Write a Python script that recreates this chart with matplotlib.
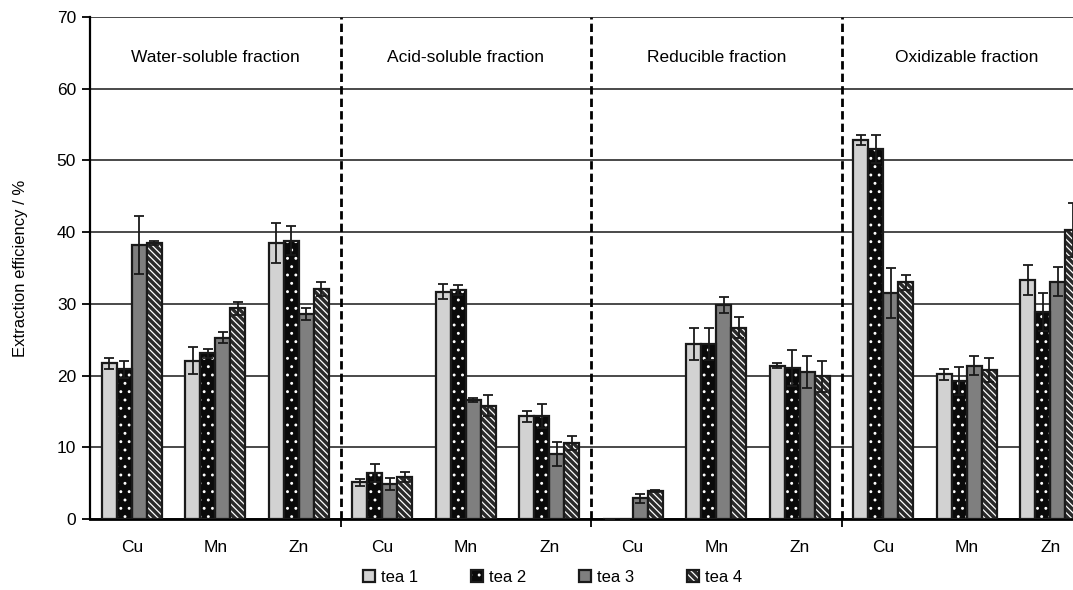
import numpy as np
import matplotlib
matplotlib.use('Agg')
import matplotlib.pyplot as plt
from matplotlib.patches import Patch

# categories: 4 fractions x 3 elements
fractions = ['Water-soluble fraction', 'Acid-soluble fraction', 'Reducible fraction', 'Oxidizable fraction']
elements = ['Cu', 'Mn', 'Zn']
teas = ['tea 1', 'tea 2', 'tea 3', 'tea 4']

# extraction efficiency (%) per tea, order: water Cu Mn Zn, acid Cu Mn Zn, reducible Cu Mn Zn, oxidizable Cu Mn Zn
tea1 = [21.7, 22.1, 38.5, 5.1, 31.7, 14.3, 0.0, 24.4, 21.4, 52.9, 20.2, 33.3]
tea2 = [20.9, 23.1, 38.8, 6.4, 31.9, 14.4, 0.0, 24.4, 21.1, 51.6, 19.3, 28.8]
tea3 = [38.2, 25.3, 28.6, 4.9, 16.6, 9.1, 2.9, 29.8, 20.5, 31.5, 21.4, 33.1]
tea4 = [38.5, 29.4, 32.1, 5.9, 15.8, 10.6, 3.9, 26.7, 19.9, 33.0, 20.8, 40.3]

# standard deviations
err1 = [0.8, 1.9, 2.8, 0.5, 1.0, 0.8, 0.0, 2.2, 0.4, 0.7, 0.75, 2.1]
err2 = [1.2, 0.6, 2.0, 1.3, 0.7, 1.7, 0.0, 2.2, 2.5, 2.0, 1.95, 2.65]
err3 = [4.0, 0.8, 0.8, 0.8, 0.3, 1.7, 0.65, 1.1, 2.2, 3.5, 1.35, 2.0]
err4 = [0.3, 0.9, 1.0, 0.7, 1.45, 1.0, 0.1, 1.45, 2.2, 1.0, 1.7, 3.75]

values = [tea1, tea2, tea3, tea4]
errors = [err1, err2, err3, err4]

# bar styles: face colour and hatch (hatch is drawn white)
faces = ['#d2d2d2', '#0a0a0a', '#7f7f7f', '#2a2a2a']
hatches = [None, '..', None, '\\\\\\\\\\']

plt.rcParams['font.family'] = ['Liberation Sans', 'DejaVu Sans']
plt.rcParams['hatch.linewidth'] = 0.9

fig = plt.figure(figsize=(10.73, 5.90), dpi=100)
# the plot area runs a bit past the right edge of the picture
ax = fig.add_axes([90 / 1073, 71 / 590, 1002 / 1073, 502 / 590])

n = len(fractions) * len(elements)
x = np.arange(n)
width = 0.18

for i in range(4):
    pos = x + (i - 1.5) * width
    if hatches[i] is None:
        ax.bar(pos, values[i], width, color=faces[i], edgecolor='#1a1a1a', linewidth=1.6, zorder=3)
    else:
        # white hatch on dark face, then black outline on top
        ax.bar(pos, values[i], width, color=faces[i], edgecolor='white', hatch=hatches[i], linewidth=0, zorder=3)
        ax.bar(pos, values[i], width, fill=False, edgecolor='#1a1a1a', linewidth=1.6, zorder=4)
    err = np.array(errors[i])
    ax.errorbar(pos, values[i], yerr=err, fmt='none', ecolor='#1a1a1a', elinewidth=1.3,
                capsize=3.5, capthick=1.3, zorder=5)

# axes limits and grid
ax.set_xlim(-0.5, n - 0.5)
ax.set_ylim(0, 70)
ax.set_yticks(range(0, 71, 10))
ax.yaxis.grid(True, color='#2a2a2a', linewidth=1.2, zorder=0)
ax.set_axisbelow(True)

# dashed separators between fractions
for b in [2.5, 5.5, 8.5]:
    ax.axvline(b, color='black', linewidth=2, linestyle=(0, (3, 1.5)), zorder=6)

# x ticks: labels at element centres, tick marks only at fraction borders
ax.set_xticks([2.5, 5.5, 8.5])
ax.set_xticklabels([])
ax.set_xticks(x, minor=True)
ax.set_xticklabels(elements * 4, minor=True, fontsize=12.5)
ax.tick_params(axis='x', which='minor', length=0, pad=15)
ax.tick_params(axis='x', which='major', length=6, width=1.3, direction='out')
ax.tick_params(axis='y', length=6, width=1.3, labelsize=12.5, pad=4)

for s in ['top', 'right']:
    ax.spines[s].set_visible(False)
ax.spines['left'].set_linewidth(1.6)
ax.spines['bottom'].set_linewidth(2)

# fraction titles
for k, name in enumerate(fractions):
    ax.text(3 * k + 1, 64.4, name, ha='center', va='center', fontsize=12.5)

ax.set_ylabel('Extraction efficiency / %', fontsize=12)
ax.yaxis.set_label_coords(-0.062, 0.5)

# legend at the bottom
handles = []
for i in range(4):
    if hatches[i] is None:
        handles.append(Patch(facecolor=faces[i], edgecolor='#1a1a1a', linewidth=1.6))
    else:
        handles.append((Patch(facecolor=faces[i], edgecolor='white', hatch=hatches[i], linewidth=0),
                        Patch(fill=False, edgecolor='#1a1a1a', linewidth=1.6)))
fig.legend(handles, teas, loc='center', bbox_to_anchor=(0.515, 0.021), ncol=4, frameon=False,
           fontsize=12, handlelength=0.7, handleheight=0.7, handletextpad=0.35, columnspacing=3.2)

fig.savefig('out.png', dpi=100)
